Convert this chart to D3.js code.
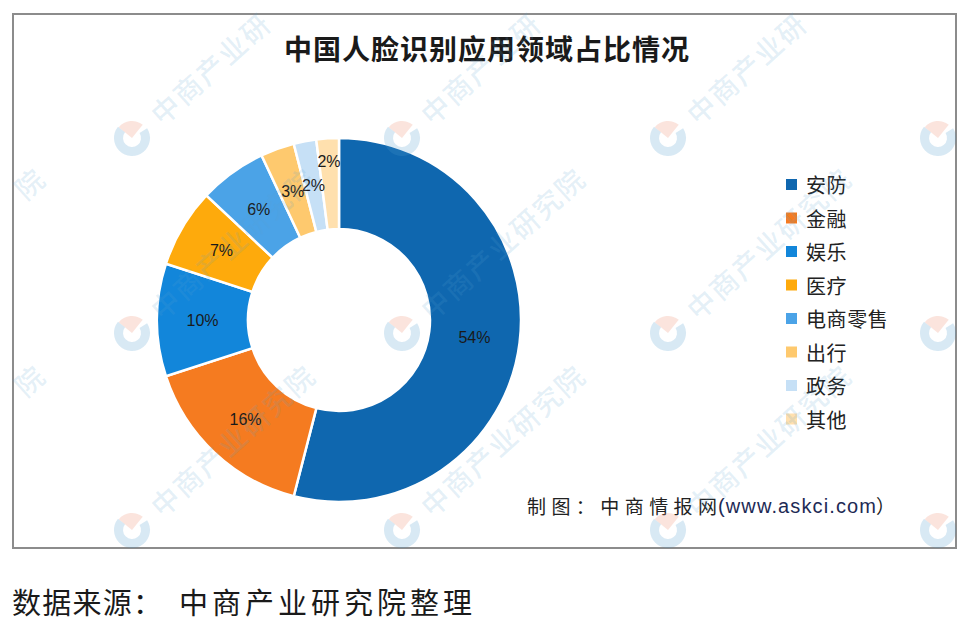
<!DOCTYPE html>
<html><head><meta charset="utf-8">
<script src="https://cdn.jsdelivr.net/npm/d3@7"></script>
<style>
html,body{margin:0;padding:0;background:#fff;}
svg{display:block;}
text{font-family:"Noto Sans CJK SC","Noto Sans",sans-serif;}
</style></head>
<body>
<svg id="c" width="972" height="628"></svg>
<script>
const title = "中国人脸识别应用领域占比情况";
const categories = ["安防","金融","娱乐","医疗","电商零售","出行","政务","其他"];
const values = [54,16,10,7,6,3,2,2];
const colors = ["#0F67AF","#F57B20","#1286DA","#FEAA0C","#4BA3E7","#FEC96E","#C6E0F6","#FFE0AE"];
const creditCn = "制图：中商情报网";
const creditUrl = "(www.askci.com";
const creditEnd = "）";
const sourceLabel = "数据来源：";
const sourceText = "中商产业研究院整理";
const watermark = "中商产业研究院";

const W = 972, H = 628;
const svg = d3.select("#c");

// frame
svg.append("rect").attr("x",13).attr("y",14).attr("width",943).attr("height",534)
  .attr("fill","#fff").attr("stroke","#8c8c8c").attr("stroke-width",2);

// title
svg.append("text").attr("x",487).attr("y",48).attr("text-anchor","middle")
  .attr("dominant-baseline","central").attr("font-size",28).attr("font-weight",700)
  .attr("letter-spacing",1).attr("fill","#1a1a1a").text(title);

// donut
const cx = 339, cy = 320, R = 182, r = 91;
const pie = d3.pie().sort(null).value(d=>d.v);
const arcs = pie(categories.map((c,i)=>({c, v:values[i], col:colors[i]})));
const arc = d3.arc().innerRadius(r).outerRadius(R);
const g = svg.append("g").attr("transform",`translate(${cx},${cy})`);
g.selectAll("path").data(arcs).join("path")
  .attr("d",arc).attr("fill",d=>d.data.col).attr("stroke","#fff").attr("stroke-width",2.5);

// labels at centroid, push outward if colliding with previous
let prev = null;
const labelPos = arcs.map(a=>{
  let [x,y] = arc.centroid(a);
  if(prev && Math.hypot(x-prev[0],y-prev[1]) < 20){
    const ang = (a.startAngle+a.endAngle)/2, rr = R-23;
    x = rr*Math.sin(ang); y = -rr*Math.cos(ang);
  }
  prev=[x,y];
  return [x,y];
});
g.selectAll("text.lbl").data(arcs).join("text").attr("class","lbl")
  .attr("x",(d,i)=>labelPos[i][0]).attr("y",(d,i)=>labelPos[i][1])
  .attr("text-anchor","middle").attr("dominant-baseline","central")
  .style("font-family","'Liberation Sans',Arial,sans-serif").attr("font-size",16)
  .attr("fill","#1a1a1a").text(d=>d.data.v+"%");

// legend
const ly = d3.scalePoint().domain(categories).range([184.5, 184.5+33.5*7]);
const lg = svg.append("g");
lg.selectAll("rect").data(categories).join("rect")
  .attr("x",786).attr("y",d=>ly(d)-5.5).attr("width",11).attr("height",11)
  .attr("fill",(d,i)=>colors[i]);
lg.selectAll("text").data(categories).join("text")
  .attr("x",806).attr("y",d=>ly(d)).attr("dominant-baseline","central")
  .attr("font-size",20).attr("letter-spacing",0.6).attr("fill","#222").text(d=>d);

// credit
svg.append("text").attr("x",527).attr("y",505).attr("dominant-baseline","central")
  .attr("font-size",19).attr("fill","#222").attr("textLength",190).attr("lengthAdjust","spacing").text(creditCn);
svg.append("text").attr("x",718).attr("y",506).attr("dominant-baseline","central")
  .style("font-family","'Liberation Sans',Arial,sans-serif")
  .attr("font-size",20).attr("fill","#1d2a55").attr("textLength",158).attr("lengthAdjust","spacing").text(creditUrl);
svg.append("text").attr("x",876).attr("y",505).attr("dominant-baseline","central")
  .attr("font-size",19).attr("fill","#222").text(creditEnd);

// source
svg.append("text").attr("x",12).attr("y",601).attr("dominant-baseline","central")
  .attr("font-size",29).attr("fill","#1a1a1a").attr("textLength",150).attr("lengthAdjust","spacing").text(sourceLabel);
svg.append("text").attr("x",179).attr("y",601).attr("dominant-baseline","central")
  .attr("font-size",29).attr("fill","#1a1a1a").attr("textLength",293).attr("lengthAdjust","spacing").text(sourceText);

// watermark overlay (per character, skipping glyphs outside the canvas)
const wm = svg.append("g").attr("pointer-events","none");
const colsX = [-138,132,402,668,938], rowsY=[138,333,530];
const ang = -42*Math.PI/180, step = 30, fs = 28;
rowsY.forEach(y=>colsX.forEach(x=>{
  if(x > -30){
    const w = wm.append("g").attr("transform",`translate(${x},${y}) rotate(-42)`);
    w.append("path").attr("d",d3.arc()({innerRadius:9,outerRadius:18,startAngle:Math.PI*0.55,endAngle:Math.PI*1.95}))
      .attr("fill","#4f9ccf").attr("fill-opacity",0.22);
    w.append("path").attr("d",d3.arc()({innerRadius:0,outerRadius:17,startAngle:-Math.PI*0.05,endAngle:Math.PI*0.45}))
      .attr("fill","#ee9478").attr("fill-opacity",0.25);
  }
  Array.from(watermark).forEach((ch,k)=>{
    const d = 30 + fs/2 + k*step;
    const px = x + d*Math.cos(ang), py = y + d*Math.sin(ang);
    if(px < fs*0.5 || px > W - fs*0.5 || py < fs*0.5 || py > H - fs*0.5) return;
    wm.append("text").attr("transform",`translate(${px},${py}) rotate(-42)`)
      .attr("text-anchor","middle").attr("dominant-baseline","central")
      .attr("font-size",fs).attr("font-weight",500).attr("fill","#5aa2d2").attr("fill-opacity",0.17)
      .text(ch);
  });
}));
</script>
</body></html>
